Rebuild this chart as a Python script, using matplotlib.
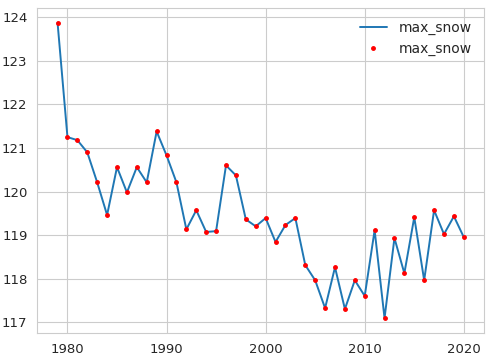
import matplotlib
matplotlib.use("Agg")
import matplotlib.pyplot as plt
import seaborn as sns
import numpy as np

years = list(range(1979, 2021))
max_snow = [123.88, 121.25, 121.18, 120.90, 120.21, 119.46, 120.56, 119.98,
            120.56, 120.21, 121.38, 120.83, 120.21, 119.13, 119.57, 119.07,
            119.09, 120.60, 120.37, 119.36, 119.20, 119.39, 118.84, 119.23,
            119.39, 118.31, 117.96, 117.32, 118.26, 117.30, 117.96, 117.60,
            119.11, 117.09, 118.93, 118.12, 119.41, 117.96, 119.57, 119.02,
            119.43, 118.95]

sns.set_style("whitegrid")
plt.rcParams['font.family'] = ['DejaVu Sans']

fig, ax = plt.subplots(figsize=(4.9, 3.58), dpi=100)
ax.plot(years, max_snow, color='tab:blue', linewidth=1.4, label='max_snow')
ax.plot(years, max_snow, '.', color='red', markersize=5, label='max_snow')

ax.set_xticks([1980, 1990, 2000, 2010, 2020])
ax.set_yticks(np.arange(117, 125))
ax.tick_params(labelsize=9.5, colors='#262626')
for s in ax.spines.values():
    s.set_color('#cccccc')
ax.legend(loc='upper right', frameon=False, fontsize=10)

fig.subplots_adjust(left=0.076, right=0.988, top=0.978, bottom=0.07)
fig.savefig('out.png', dpi=100)
